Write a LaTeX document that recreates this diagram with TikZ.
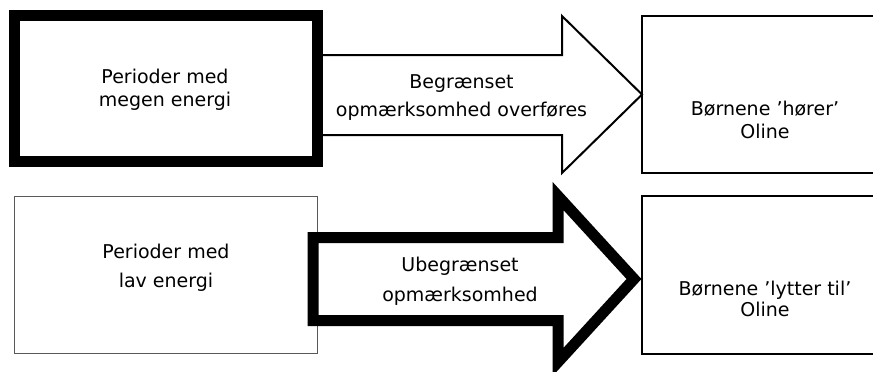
\documentclass[tikz,border=0pt]{standalone}
\usepackage{fontspec}
\setmainfont{DejaVu Sans}
\usetikzlibrary{calc}
\begin{document}
\begin{tikzpicture}[x=1pt,y=-1pt,
  box/.style={draw=black, fill=white, rectangle, inner sep=0pt, outer sep=0pt},
  thickbox/.style={box, line width=11pt},
  thinbox/.style={box, line width=1pt, draw=black!65},
  medbox/.style={box, line width=2pt},
  lbl/.style={align=center, inner sep=0pt},
  thinarrow/.style={draw=black, fill=white, line width=2pt, line join=miter},
  thickarrow/.style={draw=black, fill=white, line width=11pt, line join=miter}]
\useasboundingbox (0,0) rectangle (873,372);
\clip (0,0) rectangle (873,372);
% boxes on the right
\node[medbox, minimum width=248pt, minimum height=157pt] (C) at (766,94.5) {};
\node[medbox, minimum width=248pt, minimum height=158pt] (D) at (766,275) {};
% top arrow (behind box A)
\draw[thinarrow] (317,55) -- (562,55) -- (562,16) -- (C.west) -- (562,173) -- (562,135) -- (317,135) -- cycle;
% left boxes
\node[thickbox, minimum width=303pt, minimum height=146pt] (A) at (165.5,88.5) {};
\node[thinbox, minimum width=303pt, minimum height=157pt] (B) at (165.5,274.5) {};
% bottom arrow (over box B)
\coordinate (dtip) at ($(D.west)+(-8,4)$);
\draw[thickarrow] (313,237.5) -- (558,237.5) -- (558,196) -- (dtip) -- (558,362) -- (558,320.5) -- (313,320.5) -- cycle;
% labels
\node[lbl, font=\fontsize{19}{23}\selectfont] (tA) at (165,89.5) {Perioder med\\megen energi};
\node[lbl, font=\fontsize{19}{29}\selectfont] (tB) at (166,267.5) {Perioder med\\lav energi};
\node[lbl, font=\fontsize{19}{28}\selectfont] (tAC) at (461.5,98) {Begrænset\\opmærksomhed overføres};
\node[lbl, font=\fontsize{19}{30}\selectfont] (tBD) at (460,281.5) {Ubegrænset\\opmærksomhed};
\node[lbl, font=\fontsize{19}{23}\selectfont] (tC) at (765,119.5) {Børnene ’hører’\\Oline};
\node[lbl, font=\fontsize{19}{21.5}\selectfont] (tD) at (765,299) {Børnene ’lytter til’\\Oline};
\end{tikzpicture}
\end{document}
